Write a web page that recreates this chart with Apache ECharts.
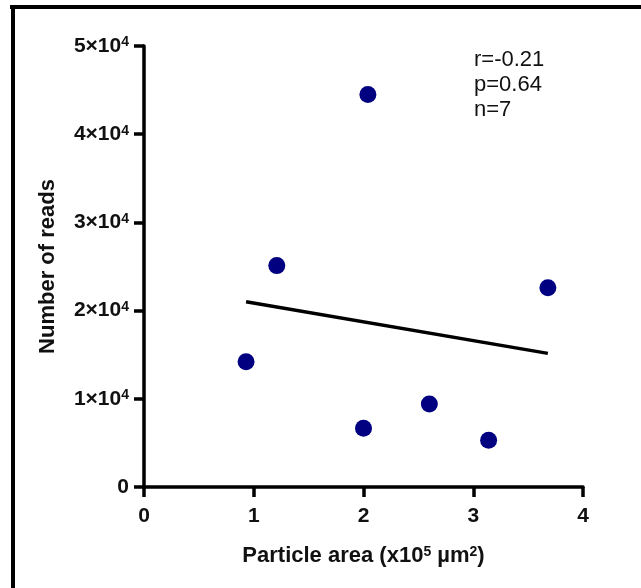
<!DOCTYPE html>
<html>
<head>
<meta charset="utf-8">
<script src="https://cdn.jsdelivr.net/npm/echarts@6/dist/echarts.min.js"></script>
<style>
  html, body { margin: 0; padding: 0; background: #fff; }
  #chart { width: 641px; height: 588px; }
</style>
</head>
<body>
<div id="chart"></div>
<script>
// particle area (x10^5 µm^2) vs number of reads
const areaValues = [0.93, 1.21, 2.04, 2.0, 2.6, 3.14, 3.68];
const readValues = [14200, 25100, 44500, 6650, 9400, 5300, 22600];
// fitted line end points
const fitX = [0.93, 3.68];
const fitY = [21000, 15150];
const statLines = ['r=-0.21', 'p=0.64', 'n=7'];

const font = 'Liberation Sans, Arial, sans-serif';
const chart = echarts.init(document.getElementById('chart'));

chart.setOption({
  animation: false,
  backgroundColor: '#fff',
  grid: { left: 144, right: 58, top: 46, bottom: 101 },
  graphic: [
    { type: 'rect', shape: { x: 10, y: 5, width: 631, height: 4 }, style: { fill: '#000' } },
    { type: 'rect', shape: { x: 11, y: 5, width: 4, height: 583 }, style: { fill: '#000' } },
    ...statLines.map((t, i) => ({
      type: 'text',
      style: {
        text: t, x: 474, y: 60 + i * 25, verticalAlign: 'middle',
        font: '22px ' + font, fill: '#111'
      }
    }))
  ],
  xAxis: {
    type: 'value', min: 0, max: 4, interval: 1,
    name: 'Particle area (x10{sup|5} µm{sup|2})',
    nameLocation: 'middle', nameGap: 58,
    nameTextStyle: {
      fontFamily: font, fontSize: 22, fontWeight: 'bold', color: '#111',
      rich: { sup: { fontFamily: font, fontSize: 14, fontWeight: 'bold', color: '#111', verticalAlign: 'top' } }
    },
    axisLine: { onZero: false, lineStyle: { color: '#000', width: 3.5 } },
    axisTick: { show: true, length: 10, lineStyle: { color: '#000', width: 3.5 } },
    axisLabel: { margin: 19, fontFamily: font, fontSize: 21, fontWeight: 'bold', color: '#111' },
    splitLine: { show: false }
  },
  yAxis: {
    type: 'value', min: 0, max: 50000, interval: 10000,
    name: 'Number of reads',
    nameLocation: 'middle', nameGap: 85,
    nameTextStyle: { fontFamily: font, fontSize: 22, fontWeight: 'bold', color: '#111' },
    axisLine: { show: true, onZero: false, lineStyle: { color: '#000', width: 3.5 } },
    axisTick: { show: true, length: 10, lineStyle: { color: '#000', width: 3.5 } },
    axisLabel: {
      margin: 15, fontFamily: font, fontSize: 21, fontWeight: 'bold', color: '#111',
      formatter: v => v === 0 ? '0' : (v / 10000) + '×10{sup|4}',
      rich: { sup: { fontFamily: font, fontSize: 14, fontWeight: 'bold', color: '#111', verticalAlign: 'top' } }
    },
    splitLine: { show: false }
  },
  series: [
    {
      type: 'line',
      data: fitX.map((x, i) => [x, fitY[i]]),
      showSymbol: false,
      lineStyle: { color: '#000', width: 3.5 },
      z: 2
    },
    {
      type: 'scatter',
      data: areaValues.map((x, i) => [x, readValues[i]]),
      symbolSize: 17,
      itemStyle: { color: '#000080', opacity: 1 },
      z: 3
    }
  ]
});
</script>
</body>
</html>
